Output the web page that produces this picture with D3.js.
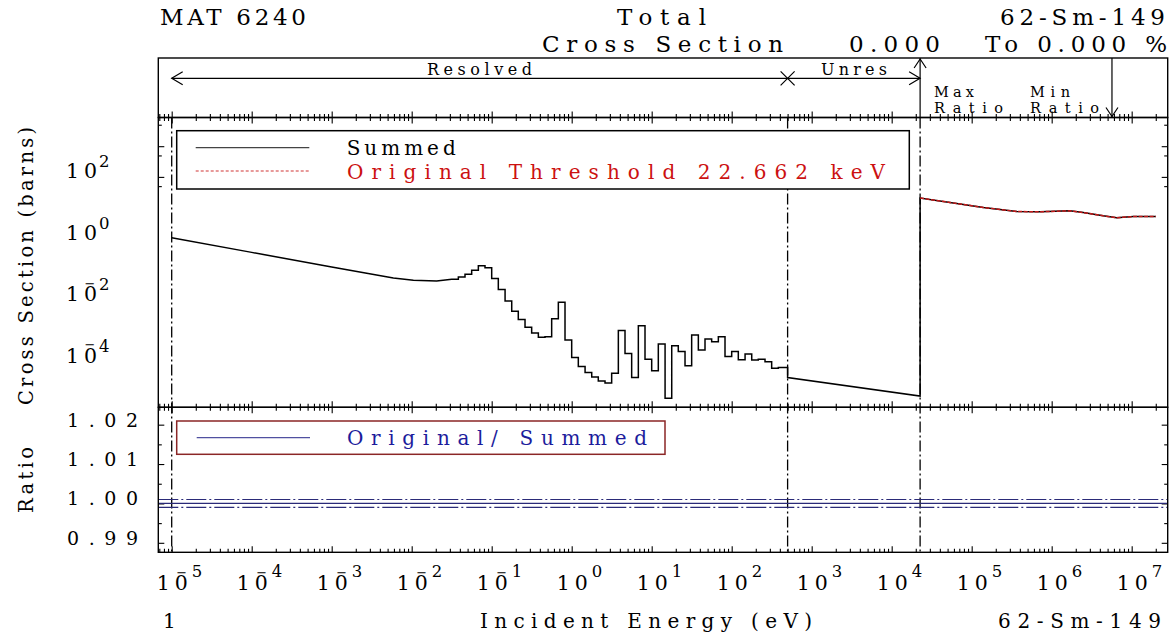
<!DOCTYPE html>
<html>
<head>
<meta charset="utf-8">
<title>62-Sm-149 Total Cross Section</title>
<script src="https://cdn.jsdelivr.net/npm/d3@7/dist/d3.min.js"></script>
<style>
  html, body { margin: 0; padding: 0; background: #fff; }
  svg { display: block; }
</style>
</head>
<body>
<svg id="chart" width="1175" height="635"></svg>
<script>
// ---------------- data ----------------
// Summed total cross section, smooth low-energy part (eV, barns)
const lowEnergy = [1e-5, 1e-4, 1e-3, 5.9e-3, 1.05e-2, 2.05e-2, 3.16e-2];
const lowSigma  = [1.05, 0.348, 0.117, 0.051, 0.043, 0.0407, 0.0463];

// Resolved region, group boundaries (eV) and group values (barns)
const groupBounds = [0.0316, 0.0383, 0.0464, 0.0562, 0.0681, 0.0825, 0.1, 0.121, 0.147, 0.178,
  0.215, 0.261, 0.316, 0.383, 0.464, 0.562, 0.681, 0.825, 1.0, 1.21,
  1.47, 1.78, 2.15, 2.61, 3.16, 3.83, 4.64, 5.62, 6.81, 8.25,
  10.0, 12.1, 14.7, 17.8, 21.5, 26.1, 31.6, 38.3, 46.4, 56.2,
  68.1, 82.5, 100, 121, 147, 178, 215, 261, 316, 383, 500];
const groupSigma = [0.0463, 0.0551, 0.0676, 0.0914, 0.128, 0.110, 0.0488, 0.0213, 0.0090, 0.00423,
  0.00226, 0.00126, 8.28e-4, 5.94e-4, 6.26e-4, 2.38e-3, 8.34e-3, 4.88e-4, 1.31e-4, 6.65e-5,
  4.23e-5, 3.06e-5, 2.26e-5, 1.94e-5, 4.04e-5, 9.85e-4, 1.77e-4, 2.90e-5, 1.41e-3, 1.16e-4,
  4.81e-5, 3.61e-4, 6.12e-6, 3.17e-4, 2.07e-4, 7.01e-5, 7.12e-4, 2.30e-4, 5.26e-4, 4.30e-4,
  6.26e-4, 1.42e-4, 2.07e-4, 1.10e-4, 1.70e-4, 1.08e-4, 1.16e-4, 9.48e-5, 5.89e-5, 6.17e-5];

// Unresolved region (eV, barns)
const unresEnergy = [500, 22662];
const unresSigma  = [2.90e-5, 7.28e-6];

// Above the threshold the original and summed data coincide (eV, barns)
const fastEnergy = [22662, 5.35e4, 1.40e5, 3.65e5, 7.1e5, 1.69e6, 2.48e6, 4.4e6, 6.5e6, 1.05e7, 2.0e7];
const fastSigma  = [20.5, 14.7, 10.1, 7.45, 7.3, 7.85, 6.9, 5.4, 4.7, 5.1, 5.1];

// Ratio Original / Summed and its +/- band
const ratioEnergy = [6.8e-6, 2.82e7];
const ratioValue  = [1.000, 1.000];
const ratioBandLow  = [0.999, 0.999];
const ratioBandHigh = [1.001, 1.001];

// Energy range boundaries (eV)
const rangeBounds = [1e-5, 500, 22662];
const maxRatioEnergy = 22662;
const minRatioEnergy = 5.67e6;

// Axis ranges and labels
const energyDomain = [6.8e-6, 2.82e7];
const sigmaDomain  = [3.13e-6, 8.6e3];
const ratioDomain  = [0.98759, 1.02441];
const xLabelExps = [-5, -4, -3, -2, -1, 0, 1, 2, 3, 4, 5, 6, 7];
const yLabelExps = [2, 0, -2, -4];
const ratioLabelValues = [1.02, 1.01, 1.00, 0.99];

// ---------------- layout ----------------
const SERIF = "'DejaVu Serif', 'Liberation Serif', serif";
const L = 158.3, R = 1167.7;
const headTop = 58, upTop = 117.5, midY = 407.3, lowBot = 552.3;

const svg = d3.select("#chart");
svg.append("rect").attr("width", 1175).attr("height", 635).attr("fill", "#fff");

const x = d3.scaleLog().domain(energyDomain).range([L, R]);
const y = d3.scaleLog().domain(sigmaDomain).range([midY, upTop]);
const yr = d3.scaleLinear().domain(ratioDomain).range([lowBot, midY]);

function txt(parent, s, px, py, opt = {}) {
  const t = parent.append("text").attr("x", px).attr("y", py)
    .attr("font-family", SERIF).attr("font-size", opt.size || 20)
    .attr("fill", opt.fill || "#000").text(s);
  if (opt.len) t.attr("textLength", opt.len).attr("lengthAdjust", "spacing");
  if (opt.anchor) t.attr("text-anchor", opt.anchor);
  return t;
}

// power-of-ten label: "10" with superscript exponent, minus drawn just above the zero
function power(parent, base, exp, o) {
  const t = parent.append("text").attr("font-family", SERIF).attr("fill", "#000");
  t.append("tspan").attr("x", o.x).attr("y", base).attr("font-size", 20.5)
    .attr("letter-spacing", 5).text("10");
  if (exp < 0) {
    t.append("tspan").attr("x", o.minusX).attr("y", base - 13.5).attr("font-size", 13).text("\u2212");
  }
  t.append("tspan").attr("x", o.supX).attr("y", base - o.rise).attr("font-size", 16.5).text(Math.abs(exp));
}

// ---------------- ticks ----------------
const allXTicks = x.ticks(200);
const isDecade = v => Math.abs(Math.log10(v) - Math.round(Math.log10(v))) < 1e-9;
const xMajor = allXTicks.filter(isDecade);
const xMinor = allXTicks.filter(v => !isDecade(v));

const allYTicks = y.ticks(200);
const yMajor = allYTicks.filter(isDecade);
const yMinor = allYTicks.filter(v => !isDecade(v) && Math.abs(v / Math.pow(10, Math.floor(Math.log10(v) + 1e-9)) - 5) < 1e-6);

const rTicks = yr.ticks(8);
const rMajor = rTicks.filter(v => Math.abs(v * 100 - Math.round(v * 100)) < 1e-6);
const rMinor = rTicks.filter(v => !rMajor.includes(v));

const tickG = svg.append("g").attr("stroke-width", 1.1);
function xAxisAt(py, vals, size) {
  tickG.append("g").attr("transform", `translate(0,${py})`)
    .call(d3.axisBottom(x).tickValues(vals).tickSize(size).tickFormat(""))
    .call(g => g.select(".domain").remove());
}
[[upTop, true], [midY, true], [lowBot, false]].forEach(([py, cross]) => {
  xAxisAt(py, xMajor, -6); xAxisAt(py, xMinor, -3.5);
  if (cross) { xAxisAt(py, xMajor, 6); xAxisAt(py, xMinor, 3.5); }
});
function yAxisAt(scale, vals, size) {
  tickG.append("g").attr("transform", `translate(${L},0)`)
    .call(d3.axisRight(scale).tickValues(vals).tickSize(size).tickFormat(""))
    .call(g => g.select(".domain").remove());
  tickG.append("g").attr("transform", `translate(${R},0)`)
    .call(d3.axisLeft(scale).tickValues(vals).tickSize(size).tickFormat(""))
    .call(g => g.select(".domain").remove());
}
yAxisAt(y, yMajor, 6); yAxisAt(y, yMinor, 3.5);
yAxisAt(yr, rMajor, 6); yAxisAt(yr, rMinor, 3.5);

// ---------------- range boundaries (dash-dot) ----------------
svg.append("g").selectAll("line").data(rangeBounds).join("line")
  .attr("x1", d => x(d)).attr("x2", d => x(d))
  .attr("y1", upTop).attr("y2", lowBot)
  .attr("stroke", "#000").attr("stroke-width", 1.3)
  .attr("stroke-dasharray", "11,3,2,3");

// ---------------- ratio panel ----------------
const rLine = d3.line().x(d => x(d[0])).y(d => yr(d[1]));
const ratioColor = "#2a2a78";
[ratioBandLow, ratioBandHigh].forEach(band => {
  svg.append("path").datum(ratioEnergy.map((e, i) => [e, band[i]]))
    .attr("d", rLine).attr("fill", "none").attr("stroke", ratioColor)
    .attr("stroke-width", 1.2).attr("stroke-dasharray", "20,3,2,3");
});
svg.append("path").datum(ratioEnergy.map((e, i) => [e, ratioValue[i]]))
  .attr("d", rLine).attr("fill", "none").attr("stroke", ratioColor).attr("stroke-width", 1.2);

// ---------------- cross section curves ----------------
const summed = [];
lowEnergy.forEach((e, i) => summed.push([e, lowSigma[i]]));
groupSigma.forEach((s, i) => { summed.push([groupBounds[i], s]); summed.push([groupBounds[i + 1], s]); });
unresEnergy.forEach((e, i) => summed.push([e, unresSigma[i]]));
fastEnergy.forEach((e, i) => summed.push([e, fastSigma[i]]));

const xsLine = d3.line().x(d => x(d[0])).y(d => y(d[1]));
svg.append("path").datum(summed).attr("d", xsLine)
  .attr("fill", "none").attr("stroke", "#000").attr("stroke-width", 1.5)
  .attr("stroke-linejoin", "miter");
svg.append("path").datum(fastEnergy.map((e, i) => [e, fastSigma[i]])).attr("d", xsLine)
  .attr("fill", "none").attr("stroke", "#c41a1a").attr("stroke-width", 1.5)
  .attr("stroke-dasharray", "4,1.5");

// ---------------- frames ----------------
const frame = svg.append("g").attr("fill", "none").attr("stroke", "#000").attr("stroke-width", 1.4);
frame.append("rect").attr("x", L).attr("y", headTop).attr("width", R - L).attr("height", upTop - headTop);
frame.append("rect").attr("x", L).attr("y", upTop).attr("width", R - L).attr("height", midY - upTop);
frame.append("rect").attr("x", L).attr("y", midY).attr("width", R - L).attr("height", lowBot - midY);

// ---------------- legends ----------------
const leg1 = svg.append("g");
leg1.append("rect").attr("x", 176.7).attr("y", 130.7).attr("width", 732.6).attr("height", 58.3)
  .attr("fill", "#fff").attr("stroke", "#000").attr("stroke-width", 1.5);
leg1.append("line").attr("x1", 195.7).attr("x2", 309.3).attr("y1", 147.7).attr("y2", 147.7)
  .attr("stroke", "#444").attr("stroke-width", 1.2);
leg1.append("line").attr("x1", 195.7).attr("x2", 309.3).attr("y1", 171).attr("y2", 171)
  .attr("stroke", "#d03535").attr("stroke-width", 1.2).attr("stroke-dasharray", "3,2");
txt(leg1, "Summed", 346.7, 155, { len: 109 });
txt(leg1, "Original Threshold 22.662 keV", 347, 179.3, { len: 538, fill: "#cc1111" });

const leg2 = svg.append("g");
leg2.append("rect").attr("x", 176.7).attr("y", 421).attr("width", 488.3).attr("height", 33.3)
  .attr("fill", "#fff").attr("stroke", "#8b2626").attr("stroke-width", 1.5);
leg2.append("line").attr("x1", 196.7).attr("x2", 310).attr("y1", 437.7).attr("y2", 437.7)
  .attr("stroke", "#5050a0").attr("stroke-width", 1.2);
txt(leg2, "Original/ Summed", 347, 445, { len: 300, fill: "#1c1c9c" });

// ---------------- header band ----------------
const head = svg.append("g").attr("stroke", "#000").attr("stroke-width", 1.2).attr("fill", "none");
const arrowY = 78.3;
const xs0 = x(rangeBounds[0]), xs1 = x(rangeBounds[1]), xs2 = x(rangeBounds[2]);
head.append("line").attr("x1", xs0).attr("x2", xs2).attr("y1", arrowY).attr("y2", arrowY);
head.append("path").attr("d", `M${xs0 + 11},${arrowY - 6.5}L${xs0},${arrowY}L${xs0 + 11},${arrowY + 6.5}`);
head.append("path").attr("d", `M${xs2 - 11},${arrowY - 6.5}L${xs2},${arrowY}L${xs2 - 11},${arrowY + 6.5}`);
head.append("path").attr("d", `M${xs1 - 7},${arrowY - 7}L${xs1 + 7},${arrowY + 7}M${xs1 - 7},${arrowY + 7}L${xs1 + 7},${arrowY - 7}`);
const xMax = x(maxRatioEnergy), xMin = x(minRatioEnergy);
head.append("line").attr("x1", xMax).attr("x2", xMax).attr("y1", headTop).attr("y2", upTop);
head.append("path").attr("d", `M${xMax - 6},${headTop + 10}L${xMax},${headTop + 1}L${xMax + 6},${headTop + 10}`);
head.append("line").attr("x1", xMin).attr("x2", xMin).attr("y1", headTop).attr("y2", upTop);
head.append("path").attr("d", `M${xMin - 6},${upTop - 10}L${xMin},${upTop - 1}L${xMin + 6},${upTop - 10}`);

txt(svg, "Resolved", 427, 75, { size: 16, len: 105 });
txt(svg, "Unres", 821, 75, { size: 16, len: 66 });
txt(svg, "Max", 934, 96.5, { size: 14.5, len: 40 });
txt(svg, "Ratio", 934, 113, { size: 14.5, len: 69 });
txt(svg, "Min", 1030, 96.5, { size: 14.5, len: 40 });
txt(svg, "Ratio", 1030, 113, { size: 14.5, len: 69 });

// ---------------- titles ----------------
txt(svg, "MAT 6240", 160, 25, { size: 23, len: 146 });
txt(svg, "Total", 617, 25, { size: 23, len: 89 });
txt(svg, "62-Sm-149", 1000, 25, { size: 23, len: 165 });
txt(svg, "Cross Section", 542, 52, { size: 23, len: 241 });
txt(svg, "0.000", 849, 52, { size: 23, len: 91 });
txt(svg, "To 0.000 %", 985, 52, { size: 23, len: 182 });

txt(svg, "1", 163, 628, { size: 20 });
txt(svg, "Incident Energy (eV)", 480, 628, { size: 20, len: 332 });
txt(svg, "62-Sm-149", 998, 628, { size: 20, len: 163 });

txt(svg, "Cross Section (barns)", 0, 0, { size: 19.5, len: 278 })
  .attr("transform", `translate(33,405) rotate(-90)`);
txt(svg, "Ratio", 0, 0, { size: 19.5, len: 66 })
  .attr("transform", `translate(33,513) rotate(-90)`);

// ---------------- tick labels ----------------
const xLab = svg.append("g");
xLabelExps.forEach(e => {
  const px = x(Math.pow(10, e));
  power(xLab, 590, e, { x: px - 15, minusX: px + 4.5, supX: px + 20, rise: 13 });
});
const yLab = svg.append("g");
yLabelExps.forEach(e => {
  const py = y(Math.pow(10, e));
  power(yLab, py + 1.5, e, { x: 66, minusX: 84.5, supX: 99, rise: 11 });
});
const fmt = d3.format(".2f");
ratioLabelValues.forEach(v => {
  txt(svg, fmt(v), 67, yr(v) + 2, { size: 19, len: 71 });
});
</script>
</body>
</html>
